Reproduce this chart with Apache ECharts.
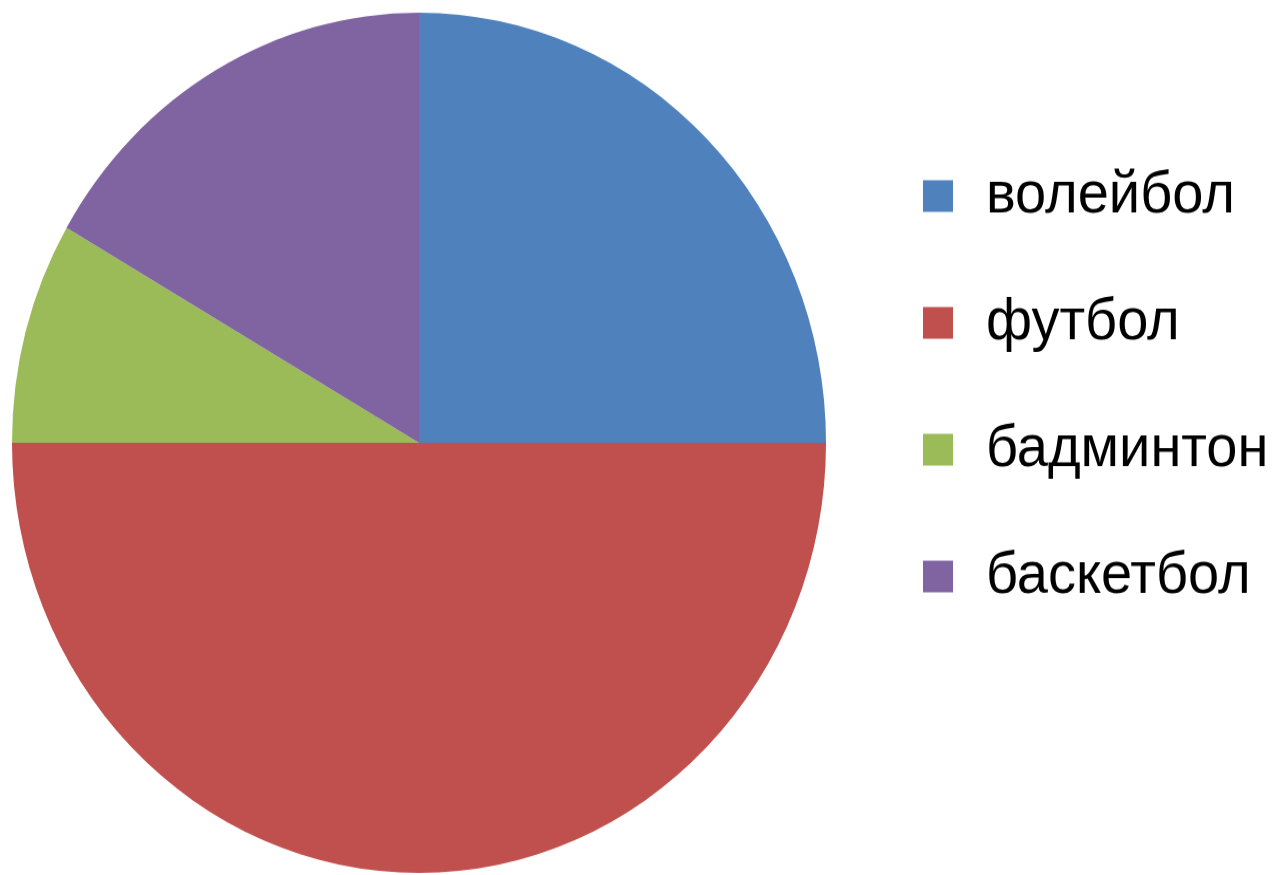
<!DOCTYPE html>
<html>
<head>
<meta charset="utf-8">
<script src="https://cdn.jsdelivr.net/npm/echarts@6/dist/echarts.min.js"></script>
<style>
  html, body { margin: 0; padding: 0; background: #fff; width: 1285px; height: 875px; }
  /* the source picture is stretched vertically, so the whole chart is too */
  #pieChart { width: 1285px; height: 828px; transform: scaleY(1.0568); transform-origin: 0 0; }
</style>
</head>
<body>
<div id="pieChart"></div>
<script>
let categories = ["волейбол", "футбол", "бадминтон", "баскетбол"];
let values = [3, 6, 1, 2];
let colors = ["#4F81BD", "#C0504D", "#9BBB59", "#8064A2"];

let seriesData = [];
for (let i = 0; i < categories.length; i++) {
  seriesData.push({
    name: categories[i],
    value: values[i],
    itemStyle: { color: colors[i] }
  });
}

let chart = echarts.init(document.getElementById("pieChart"), null, { renderer: "canvas" });
chart.setOption({
  animation: false,
  legend: {
    orient: "vertical",
    left: 918,
    top: 140,
    itemWidth: 30,
    itemHeight: 30,
    itemGap: 39,
    icon: "rect",
    textStyle: {
      fontFamily: "Liberation Sans, Arial, sans-serif",
      fontSize: 56,
      lineHeight: 60,
      color: "#000",
      padding: [21, 0, 0, 28]
    },
    data: categories
  },
  series: [
    {
      type: "pie",
      center: [419, 419],
      radius: 407,
      startAngle: 90,
      clockwise: true,
      label: { show: false },
      labelLine: { show: false },
      emphasis: { disabled: true },
      itemStyle: { borderWidth: 0 },
      data: seriesData
    }
  ]
});
</script>
</body>
</html>
